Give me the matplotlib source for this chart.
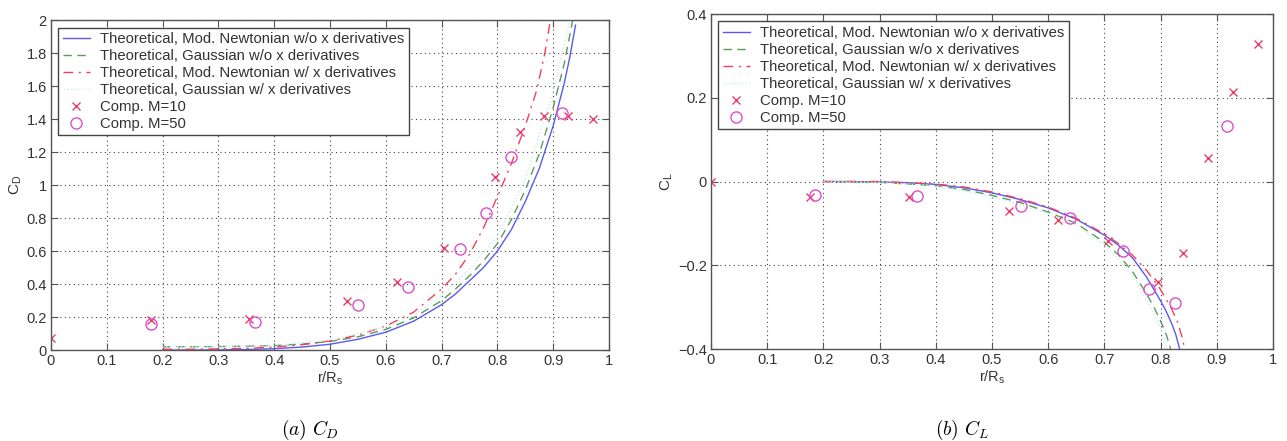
import matplotlib
matplotlib.use("Agg")
import matplotlib.pyplot as plt

plt.rcParams['font.family'] = ['Liberation Sans', 'DejaVu Sans']
plt.rcParams['mathtext.fontset'] = 'custom'
plt.rcParams['mathtext.rm'] = 'Liberation Sans'
plt.rcParams['mathtext.it'] = 'Liberation Sans:italic'

# ---------------- data : C_D ----------------
cd_newt_x = [0.2, 0.25, 0.3, 0.35, 0.4, 0.45, 0.5, 0.55, 0.6, 0.65, 0.7, 0.725, 0.75, 0.775,
             0.8, 0.825, 0.85, 0.875, 0.9, 0.92, 0.93, 0.94]
cd_newt_y = [0.0, 0.0, 0.001, 0.003, 0.008, 0.018, 0.035, 0.065, 0.108, 0.175, 0.275, 0.34,
             0.42, 0.50, 0.60, 0.73, 0.90, 1.10, 1.36, 1.62, 1.78, 1.97]
cd_gaus_x = [0.2, 0.25, 0.3, 0.35, 0.4, 0.45, 0.5, 0.55, 0.6, 0.65, 0.7, 0.725, 0.75, 0.775,
             0.8, 0.825, 0.85, 0.875, 0.9, 0.92, 0.935]
cd_gaus_y = [0.02, 0.02, 0.021, 0.023, 0.027, 0.036, 0.052, 0.08, 0.125, 0.195, 0.30, 0.37,
             0.45, 0.54, 0.645, 0.79, 0.97, 1.19, 1.47, 1.74, 2.0]
cd_newtx_x = [0.2, 0.25, 0.3, 0.35, 0.4, 0.45, 0.5, 0.55, 0.6, 0.65, 0.7, 0.725, 0.75, 0.775,
              0.8, 0.825, 0.85, 0.87, 0.885, 0.895]
cd_newtx_y = [0.005, 0.005, 0.007, 0.01, 0.018, 0.032, 0.055, 0.09, 0.145, 0.23, 0.37, 0.46,
              0.58, 0.74, 0.93, 1.13, 1.36, 1.57, 1.80, 2.0]
cd_gausx_x = [0.2, 0.3, 0.4, 0.5, 0.6, 0.65, 0.7, 0.75, 0.8, 0.85, 0.9, 0.93]
cd_gausx_y = [0.02, 0.02, 0.028, 0.06, 0.14, 0.21, 0.33, 0.49, 0.69, 1.04, 1.57, 2.0]
cd_m10_x = [0.0, 0.18, 0.355, 0.53, 0.62, 0.705, 0.796, 0.84, 0.883, 0.927, 0.971]
cd_m10_y = [0.07, 0.18, 0.19, 0.30, 0.41, 0.62, 1.05, 1.32, 1.42, 1.42, 1.40]
cd_m50_x = [0.18, 0.365, 0.55, 0.64, 0.733, 0.78, 0.824, 0.915]
cd_m50_y = [0.16, 0.17, 0.27, 0.38, 0.61, 0.83, 1.17, 1.44]

# ---------------- data : C_L ----------------
cl_newt_x = [0.2, 0.25, 0.3, 0.35, 0.4, 0.45, 0.5, 0.55, 0.6, 0.65, 0.7, 0.725, 0.75, 0.775,
             0.8, 0.81, 0.82, 0.827, 0.834]
cl_newt_y = [0.0, 0.0, -0.001, -0.003, -0.007, -0.015, -0.027, -0.043, -0.063, -0.09, -0.128,
             -0.152, -0.182, -0.228, -0.285, -0.31, -0.34, -0.365, -0.40]
cl_gaus_x = [0.2, 0.3, 0.4, 0.45, 0.5, 0.55, 0.6, 0.65, 0.7, 0.725, 0.75, 0.775, 0.79, 0.8,
             0.81, 0.818]
cl_gaus_y = [0.0, -0.002, -0.01, -0.019, -0.033, -0.05, -0.073, -0.10, -0.145, -0.175, -0.215,
             -0.268, -0.305, -0.333, -0.365, -0.40]
cl_newtx_x = [0.2, 0.3, 0.4, 0.45, 0.5, 0.55, 0.6, 0.65, 0.7, 0.725, 0.75, 0.775, 0.8, 0.82,
              0.83, 0.838, 0.843]
cl_newtx_y = [0.0, 0.0, -0.006, -0.013, -0.025, -0.041, -0.061, -0.088, -0.125, -0.148, -0.176,
              -0.212, -0.258, -0.305, -0.335, -0.37, -0.40]
cl_gausx_x = [0.2, 0.3, 0.4, 0.5, 0.6, 0.65, 0.7, 0.73, 0.76, 0.78, 0.8, 0.812]
cl_gausx_y = [0.0, -0.002, -0.01, -0.036, -0.076, -0.103, -0.152, -0.19, -0.245, -0.295, -0.35, -0.40]
cl_m10_x = [0.0, 0.177, 0.353, 0.531, 0.618, 0.707, 0.796, 0.84, 0.885, 0.929, 0.974]
cl_m10_y = [0.0, -0.038, -0.038, -0.07, -0.093, -0.143, -0.239, -0.17, 0.055, 0.213, 0.328]
cl_m50_x = [0.185, 0.366, 0.551, 0.639, 0.733, 0.78, 0.826, 0.918]
cl_m50_y = [-0.032, -0.034, -0.058, -0.086, -0.166, -0.256, -0.289, 0.132]

# ---------------- labels ----------------
legend_labels = ["Theoretical, Mod. Newtonian w/o x derivatives",
                 "Theoretical, Gaussian w/o x derivatives",
                 "Theoretical, Mod. Newtonian w/ x derivatives",
                 "Theoretical, Gaussian w/ x derivatives",
                 "Comp. M=10",
                 "Comp. M=50"]
x_ticks = [0, 0.1, 0.2, 0.3, 0.4, 0.5, 0.6, 0.7, 0.8, 0.9, 1]
x_ticklabels = ["0", "0.1", "0.2", "0.3", "0.4", "0.5", "0.6", "0.7", "0.8", "0.9", "1"]
cd_ticks = [0, 0.2, 0.4, 0.6, 0.8, 1, 1.2, 1.4, 1.6, 1.8, 2]
cd_ticklabels = ["0", "0.2", "0.4", "0.6", "0.8", "1", "1.2", "1.4", "1.6", "1.8", "2"]
cl_ticks = [-0.4, -0.2, 0, 0.2, 0.4]
cl_ticklabels = ["\u22120.4", "\u22120.2", "0", "0.2", "0.4"]

C_BLUE = '#5a5af2'
C_GREEN = '#5a9a5a'
C_RED = '#f2405e'
C_CYAN = '#c6eef0'
C_X = '#e8406a'
C_O = '#dc50c8'
C_AX = '#555555'
C_TXT = '#333333'

fig = plt.figure(figsize=(12.87, 4.41), dpi=100)
ax1 = fig.add_axes([0.0396, 0.2063, 0.4336, 0.748])
ax2 = fig.add_axes([0.5524, 0.2086, 0.4367, 0.7596])


def draw(ax, data, ylim, yticks, yticklabels, ylabel):
    (nx, ny), (gx, gy), (rx, ry), (cx, cy), (m10x, m10y), (m50x, m50y) = data
    h1, = ax.plot(nx, ny, '-', color=C_BLUE, lw=1.0)
    h2, = ax.plot(gx, gy, '--', color=C_GREEN, lw=1.0, dashes=(6, 4))
    h3, = ax.plot(rx, ry, '-.', color=C_RED, lw=1.0, dashes=(7, 4, 1.5, 4))
    h4, = ax.plot(cx, cy, ':', color=C_CYAN, lw=1.0)
    h5, = ax.plot(m10x, m10y, 'x', color=C_X, ms=6, mew=1.0, ls='none')
    h6, = ax.plot(m50x, m50y, 'o', mfc='none', mec=C_O, ms=8, mew=1.0, ls='none')
    ax.set_xlim(0, 1)
    ax.set_ylim(*ylim)
    ax.set_xticks(x_ticks)
    ax.set_xticklabels(x_ticklabels)
    ax.set_yticks(yticks)
    ax.set_yticklabels(yticklabels)
    ax.tick_params(direction='in', top=True, right=True, length=5, width=0.8,
                   color=C_AX, labelcolor=C_TXT, labelsize=10.5, pad=3)
    for s in ax.spines.values():
        s.set_color(C_AX)
        s.set_linewidth(1.0)
    ax.grid(True, ls=(0, (1, 3)), color='#444444', lw=0.8)
    ax.set_axisbelow(True)
    ax.set_xlabel(r'r/R$_\mathregular{s}$', fontsize=10.5, color=C_TXT, labelpad=1)
    ax.set_ylabel(ylabel, fontsize=11, color=C_TXT, labelpad=2)
    leg = ax.legend([h1, h2, h3, h4, h5, h6], legend_labels, loc='upper left',
                    fontsize=10.7, frameon=True, fancybox=False, framealpha=1,
                    edgecolor='#444444', borderpad=0.3, labelspacing=0.2,
                    handlelength=1.8, handletextpad=0.7, borderaxespad=0.5)
    leg.get_frame().set_linewidth(1.0)
    for t in leg.get_texts():
        t.set_color(C_TXT)


draw(ax1, [(cd_newt_x, cd_newt_y), (cd_gaus_x, cd_gaus_y), (cd_newtx_x, cd_newtx_y),
           (cd_gausx_x, cd_gausx_y), (cd_m10_x, cd_m10_y), (cd_m50_x, cd_m50_y)],
     (0, 2), cd_ticks, cd_ticklabels, r'C$_\mathregular{D}$')
draw(ax2, [(cl_newt_x, cl_newt_y), (cl_gaus_x, cl_gaus_y), (cl_newtx_x, cl_newtx_y),
           (cl_gausx_x, cl_gausx_y), (cl_m10_x, cl_m10_y), (cl_m50_x, cl_m50_y)],
     (-0.4, 0.4), cl_ticks, cl_ticklabels, r'C$_\mathregular{L}$')

fig.text(310 / 1287, 1 - 430 / 441, r'$(a)\ C_D$', ha='center', va='center',
         fontsize=14, math_fontfamily='cm')
fig.text(962 / 1287, 1 - 430 / 441, r'$(b)\ C_L$', ha='center', va='center',
         fontsize=14, math_fontfamily='cm')

fig.savefig('out.png', dpi=100)
